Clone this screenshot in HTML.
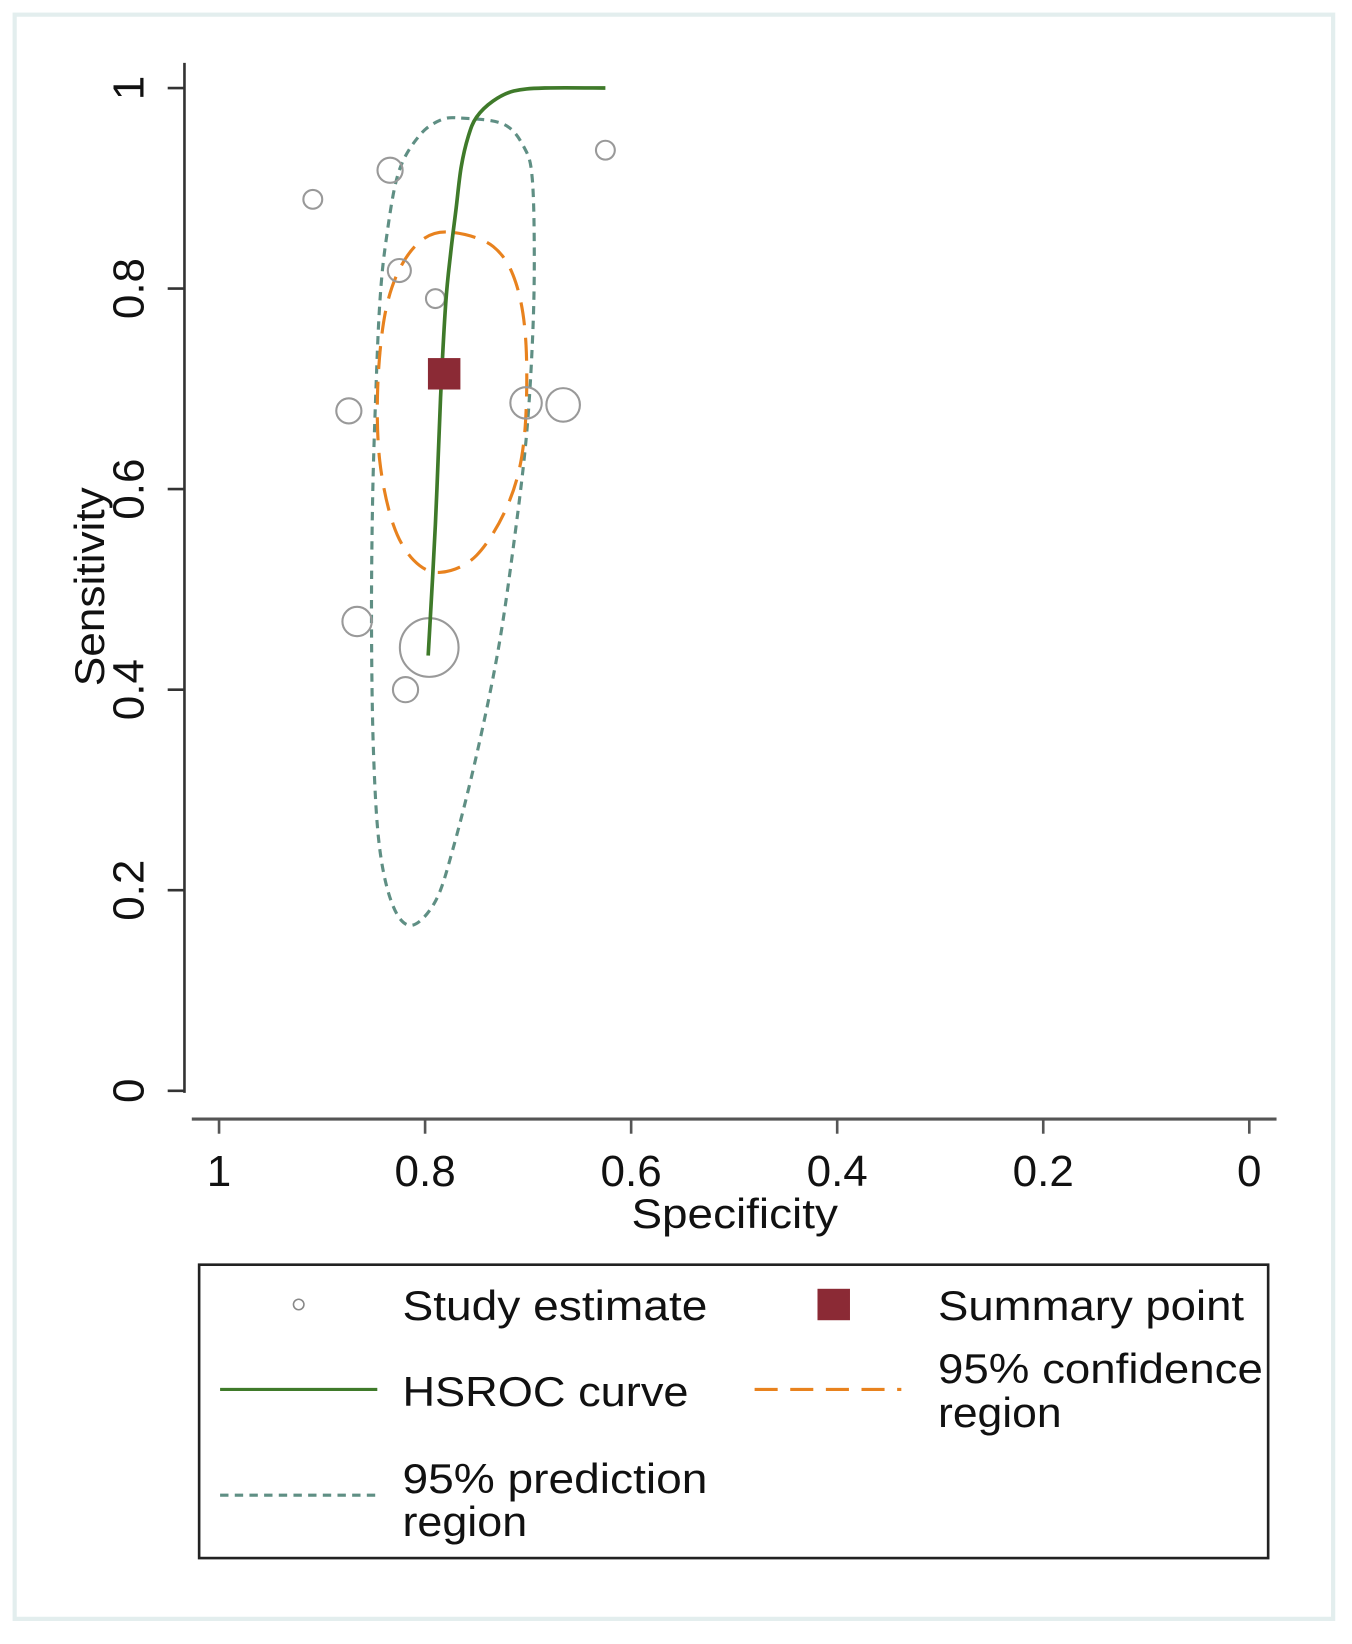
<!DOCTYPE html>
<html><head><meta charset="utf-8"><style>
html,body{margin:0;padding:0;background:#fff;}
svg{display:block;}
text{font-family:"Liberation Sans",Arial,sans-serif;fill:#111;}
</style></head>
<body>
<svg id="chart" width="1352" height="1644" viewBox="0 0 1290 1569" preserveAspectRatio="none" xmlns="http://www.w3.org/2000/svg">
<rect x="14" y="14" width="1258" height="1531" fill="#fff" stroke="#e3eeee" stroke-width="4"/>
<g id="axes"></g>
<g id="plot"></g>
<g id="legend">
<rect x="190" y="1207" width="1020" height="280" fill="#fff" stroke="#222" stroke-width="2.5"/>
<circle cx="285" cy="1245" r="5" fill="none" stroke="#888" stroke-width="1.5"/>
<text x="384" y="1260" font-size="40" textLength="291" lengthAdjust="spacingAndGlyphs">Study estimate</text>
<rect x="780" y="1230" width="31" height="30" fill="#8b2a35"/>
<text x="895" y="1260" font-size="40" textLength="292" lengthAdjust="spacingAndGlyphs">Summary point</text>
<line x1="210" y1="1326" x2="360" y2="1326" stroke="#3f7a2a" stroke-width="3"/>
<text x="384" y="1342" font-size="40" textLength="273" lengthAdjust="spacingAndGlyphs">HSROC curve</text>
<line x1="720" y1="1326" x2="860" y2="1326" stroke="#e8821e" stroke-width="3" stroke-dasharray="22,12"/>
<text x="895" y="1320" font-size="40" textLength="310" lengthAdjust="spacingAndGlyphs">95% confidence</text>
<text x="895" y="1362" font-size="40" textLength="118" lengthAdjust="spacingAndGlyphs">region</text>
<line x1="210" y1="1427" x2="360" y2="1427" stroke="#5f8f84" stroke-width="3" stroke-dasharray="8,6"/>
<text x="384" y="1425" font-size="40" textLength="291" lengthAdjust="spacingAndGlyphs">95% prediction</text>
<text x="384" y="1466" font-size="40" textLength="119" lengthAdjust="spacingAndGlyphs">region</text>
</g>
</svg>
<script>
const xTicks = [1, 0.8, 0.6, 0.4, 0.2, 0];
const xTickLabels = ["1", "0.8", "0.6", "0.4", "0.2", "0"];
const yTicks = [0, 0.2, 0.4, 0.6, 0.8, 1];
const yTickLabels = ["0", "0.2", "0.4", "0.6", "0.8", "1"];
const studySpec = [0.909, 0.834, 0.625, 0.825, 0.790, 0.874, 0.702, 0.666, 0.866, 0.796, 0.819];
const studySens = [0.889, 0.918, 0.938, 0.818, 0.790, 0.678, 0.686, 0.684, 0.468, 0.442, 0.400];
const studyWeight = [9, 12, 9, 11, 9, 12, 15, 16, 14, 28, 12];
const summarySpec = [0.782];
const summarySens = [0.715];
const hsrocSpec = [0.797, 0.790, 0.785, 0.780, 0.775, 0.770, 0.765, 0.758, 0.750, 0.734, 0.714, 0.684, 0.625];
const hsrocSens = [0.434, 0.565, 0.691, 0.785, 0.837, 0.879, 0.921, 0.952, 0.971, 0.987, 0.997, 1.0, 1.0];
const confSpec = [0.773, 0.734, 0.712, 0.702, 0.704, 0.719, 0.750, 0.785, 0.811, 0.831, 0.844, 0.846, 0.839, 0.824, 0.801];
const confSens = [0.856, 0.842, 0.806, 0.743, 0.649, 0.586, 0.534, 0.517, 0.529, 0.565, 0.628, 0.701, 0.774, 0.821, 0.850];
const predSpec = [0.765, 0.724, 0.704, 0.696, 0.694, 0.696, 0.702, 0.714, 0.729, 0.750, 0.773, 0.790, 0.813, 0.831, 0.844, 0.850, 0.852, 0.851, 0.848, 0.844, 0.838, 0.826, 0.806, 0.785];
const predSens = [0.970, 0.964, 0.941, 0.910, 0.827, 0.743, 0.649, 0.545, 0.440, 0.335, 0.241, 0.189, 0.165, 0.184, 0.241, 0.335, 0.461, 0.586, 0.691, 0.785, 0.847, 0.915, 0.952, 0.968];

const NS = "http://www.w3.org/2000/svg";
const X = s => 209 + (1 - s) * 983;
const Y = v => 1041 - v * 957;
function mk(tag, attrs, parent){const e=document.createElementNS(NS,tag);for(const k in attrs)e.setAttribute(k,attrs[k]);parent.appendChild(e);return e;}
const axes=document.getElementById('axes'), plot=document.getElementById('plot');

let l=mk('line',{x1:176,y1:60,x2:176,y2:1043,stroke:'#333','stroke-width':2.5},axes);


l=mk('line',{x1:183,y1:1068,x2:1218,y2:1068,stroke:'#555','stroke-width':3},axes);


xTicks.forEach((t,i)=>{
  const tk=mk('line',{x1:X(t),y1:1068,x2:X(t),y2:1082,stroke:'#555','stroke-width':2.5},axes);
  
  
  const tx=mk('text',{x:X(t),y:1132,'font-size':42,'text-anchor':'middle'},axes);
  tx.textContent=xTickLabels[i];
  
  
});
yTicks.forEach((t,i)=>{
  const tk=mk('line',{x1:160,y1:Y(t),x2:176,y2:Y(t),stroke:'#333','stroke-width':2.5},axes);
  
  
  const tx=mk('text',{x:0,y:0,'font-size':42,'text-anchor':'middle',transform:`translate(137,${Y(t)}) rotate(-90)`},axes);
  tx.textContent=yTickLabels[i];
  
  
});
let t=mk('text',{x:0,y:0,'font-size':40,'text-anchor':'middle',textLength:190,lengthAdjust:'spacingAndGlyphs',transform:'translate(99,560) rotate(-90)'},axes);
t.textContent='Sensitivity';


t=mk('text',{x:701,y:1172,'font-size':40,'text-anchor':'middle',textLength:197,lengthAdjust:'spacingAndGlyphs'},axes);
t.textContent='Specificity';



function closedCurve(sx, sy){
  const p=sx.map((s,i)=>[X(s),Y(sy[i])]); const n=p.length;
  let d=`M${p[0][0]},${p[0][1]}`;
  for(let i=0;i<n;i++){
    const p0=p[(i-1+n)%n],p1=p[i],p2=p[(i+1)%n],p3=p[(i+2)%n];
    const c1=[p1[0]+(p2[0]-p0[0])/6,p1[1]+(p2[1]-p0[1])/6];
    const c2=[p2[0]-(p3[0]-p1[0])/6,p2[1]-(p3[1]-p1[1])/6];
    d+=` C${c1[0]},${c1[1]} ${c2[0]},${c2[1]} ${p2[0]},${p2[1]}`;
  }
  return d+'Z';
}
function openCurve(sx, sy){
  const p=sx.map((s,i)=>[X(s),Y(sy[i])]); const n=p.length;
  let d=`M${p[0][0]},${p[0][1]}`;
  for(let i=0;i<n-1;i++){
    const p0=p[Math.max(i-1,0)],p1=p[i],p2=p[i+1],p3=p[Math.min(i+2,n-1)];
    const c1=[p1[0]+(p2[0]-p0[0])/6,p1[1]+(p2[1]-p0[1])/6];
    const c2=[p2[0]-(p3[0]-p1[0])/6,p2[1]-(p3[1]-p1[1])/6];
    d+=` C${c1[0]},${c1[1]} ${c2[0]},${c2[1]} ${p2[0]},${p2[1]}`;
  }
  return d;
}
let pr=mk('path',{d:closedCurve(predSpec,predSens),fill:'none',stroke:'#5f8f84','stroke-width':3,'stroke-dasharray':'8,6'},plot);


let cr=mk('path',{d:closedCurve(confSpec,confSens),fill:'none',stroke:'#e8821e','stroke-width':3,'stroke-dasharray':'22,12'},plot);



studySpec.forEach((s,i)=>{
  const c=mk('circle',{cx:X(s),cy:Y(studySens[i]),r:studyWeight[i],fill:'none',stroke:'#999','stroke-width':2},plot);
  
  
});
const pl=mk('path',{d:openCurve(hsrocSpec,hsrocSens),fill:'none',stroke:'#3f7a2a','stroke-width':3.5,'stroke-linejoin':'round'},plot);


summarySpec.forEach((s,i)=>{
  const r=mk('rect',{x:X(s)-15,y:Y(summarySens[i])-15,width:31,height:30,fill:'#8b2a35'},plot);
  
  
});
</script>
</body></html>
